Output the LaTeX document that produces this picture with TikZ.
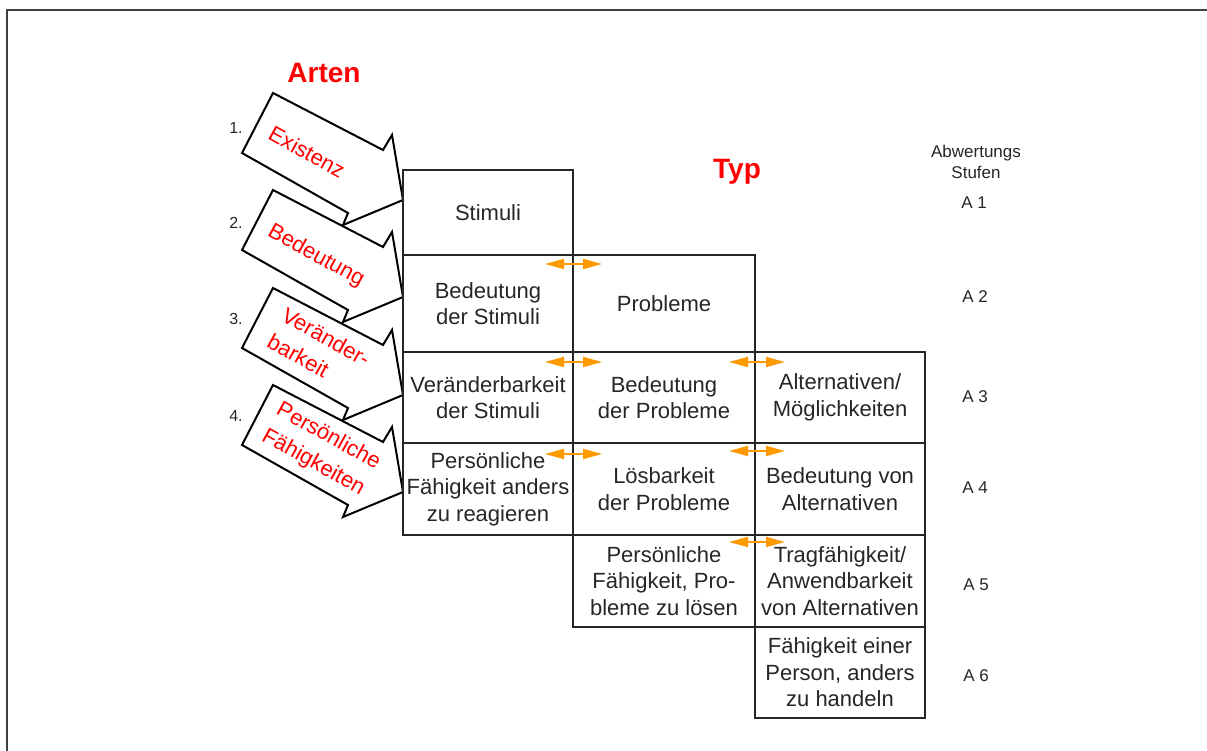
\documentclass[tikz,border=0pt]{standalone}
\usepackage{fontspec}
\setmainfont{Liberation Sans}
\usetikzlibrary{arrows.meta}
\definecolor{oarr}{HTML}{FF9900}
\begin{document}
\begin{tikzpicture}[x=1pt,y=-1pt,
  cell/.style={draw=black!85, line width=1.3pt, inner sep=0pt, align=center,
    font=\fontsize{22}{26.5}\selectfont, text=black!85},
  bigarrow/.style={draw=black, line width=2pt, fill=white, line join=miter},
  redlabel/.style={text=red, font=\fontsize{22}{30}\selectfont, align=left,
    inner sep=0pt, rotate=-29},
  titlelabel/.style={text=red, font=\bfseries\fontsize{28}{30}\selectfont, inner sep=0pt},
  numlabel/.style={font=\fontsize{16}{18}\selectfont, inner sep=0pt, text=black!85},
  levellabel/.style={font=\fontsize{17}{21}\selectfont, inner sep=0pt, align=center, text=black!85},
  oarrow/.style={draw=oarr, line width=1.8pt,
    {Triangle[length=19pt,width=10pt]}-{Triangle[length=19pt,width=10pt]}}
]
\useasboundingbox (0,0) rectangle (1207,751);
% frame
\draw[line width=2pt, black!75] (7,751) -- (7,10.5) -- (1207,10.5);

% big block arrows
\foreach \dy in {0,97,195,292} {
  \draw[bigarrow, shift={(0,\dy)}] (273,93) -- (383,150) -- (392,135) -- (403,200)
    -- (343,225) -- (348,213) -- (242,153) -- cycle;
}

% red arrow labels
\node[redlabel] (lex) at (307,152) {Existenz};
\node[redlabel] (lbe) at (316,256) {Bedeutung};
\node[redlabel] (lve) at (319,350) {Veränder-\\barkeit};
\node[redlabel] (lpe) at (321,450) {Persönliche\\Fähigkeiten};

% numbers
\node[numlabel] (n1) at (236,128) {1.};
\node[numlabel] (n2) at (236,223) {2.};
\node[numlabel] (n3) at (236,319) {3.};
\node[numlabel] (n4) at (236,416) {4.};

% titles
\node[titlelabel] (arten) at (324,73) {Arten};
\node[titlelabel] (typ) at (737,172) {Typ};

% cells column 1
\node[cell, minimum width=170pt, minimum height=85pt] (c11) at (488,212.5) {Stimuli};
\node[cell, minimum width=170pt, minimum height=97pt] (c12) at (488,303.5) {Bedeutung\\der Stimuli};
\node[cell, minimum width=170pt, minimum height=91pt] (c13) at (488,397.5) {Veränderbarkeit\\der Stimuli};
\node[cell, minimum width=170pt, minimum height=92pt] (c14) at (488,489) {Persönliche\\Fähigkeit anders\\zu reagieren};
% column 2
\node[cell, minimum width=182pt, minimum height=97pt] (c22) at (664,303.5) {Probleme};
\node[cell, minimum width=182pt, minimum height=91pt] (c23) at (664,397.5) {Bedeutung\\der Probleme};
\node[cell, minimum width=182pt, minimum height=92pt] (c24) at (664,489) {Lösbarkeit\\der Probleme};
\node[cell, minimum width=182pt, minimum height=92pt] (c25) at (664,581) {Persönliche\\Fähigkeit, Pro-\\bleme zu lösen};
% column 3
\node[cell, minimum width=170pt, minimum height=91pt] (c33) at (840,397.5) {Alternativen/\\Möglichkeiten};
\node[cell, minimum width=170pt, minimum height=92pt] (c34) at (840,489) {Bedeutung von\\Alternativen};
\node[cell, minimum width=170pt, minimum height=92pt] (c35) at (840,581) {Tragfähigkeit/\\Anwendbarkeit\\von Alternativen};
\node[cell, minimum width=170pt, minimum height=91pt] (c36) at (840,672.5) {Fähigkeit einer\\Person, anders\\zu handeln};

% orange double arrows
\coordinate (a1l) at (545,264); \coordinate (a1r) at (602,264);
\coordinate (a2l) at (545,362); \coordinate (a2r) at (602,362);
\coordinate (a3l) at (545,454); \coordinate (a3r) at (602,454);
\coordinate (b1l) at (729,362); \coordinate (b1r) at (785,362);
\coordinate (b2l) at (729,451); \coordinate (b2r) at (785,451);
\coordinate (b3l) at (729,542); \coordinate (b3r) at (785,542);
\draw[oarrow] (a1l) -- (a1r);
\draw[oarrow] (a2l) -- (a2r);
\draw[oarrow] (a3l) -- (a3r);
\draw[oarrow] (b1l) -- (b1r);
\draw[oarrow] (b2l) -- (b2r);
\draw[oarrow] (b3l) -- (b3r);

% levels
\node[levellabel] (lvh) at (976,162) {Abwertungs\\Stufen};
\node[levellabel] (lv1) at (974,203) {A 1};
\node[levellabel] (lv2) at (975,297) {A 2};
\node[levellabel] (lv3) at (975,397) {A 3};
\node[levellabel] (lv4) at (975,488) {A 4};
\node[levellabel] (lv5) at (976,585) {A 5};
\node[levellabel] (lv6) at (976,676) {A 6};
\end{tikzpicture}
\end{document}
